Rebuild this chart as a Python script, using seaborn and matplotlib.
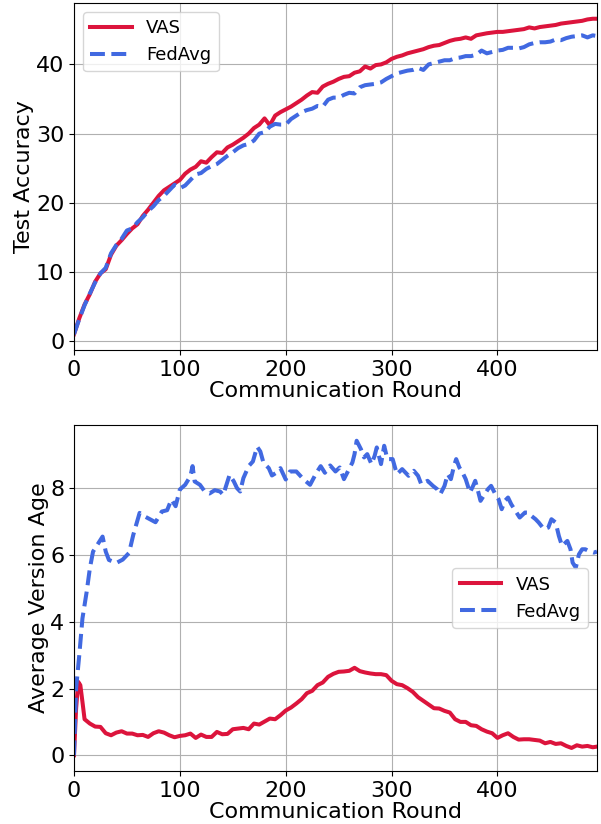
import numpy as np
import pandas as pd
import matplotlib
matplotlib.use('Agg')
import matplotlib.pyplot as plt
import seaborn as sns

acc_rounds = list(range(0, 495, 5)) + [494]
acc_vas = [1.0, 3.3, 5.3, 6.8, 8.6, 9.8, 10.4, 12.5, 13.8, 14.6,
           15.5, 16.3, 16.9, 18.1, 19.0, 20.0, 21.0, 21.8, 22.3, 22.8,
           23.3, 24.2, 24.8, 25.2, 26.0, 25.8, 26.6, 27.3, 27.2, 28.0,
           28.4, 28.9, 29.4, 30.0, 30.8, 31.3, 32.2, 31.2, 32.6, 33.1,
           33.5, 33.9, 34.4, 34.9, 35.5, 36.0, 35.9, 36.8, 37.2, 37.5,
           37.9, 38.2, 38.3, 38.8, 39.0, 39.7, 39.4, 39.9, 40.0, 40.3,
           40.8, 41.1, 41.3, 41.6, 41.8, 42.0, 42.2, 42.5, 42.7, 42.8,
           43.1, 43.4, 43.6, 43.7, 43.9, 43.7, 44.2, 44.35, 44.5, 44.6,
           44.7, 44.7, 44.8, 44.9, 45.0, 45.1, 45.35, 45.2, 45.4, 45.5,
           45.6, 45.7, 45.9, 46.0, 46.1, 46.2, 46.3, 46.5, 46.6, 46.6]
acc_fedavg = [1.0, 3.2, 5.2, 6.9, 8.5, 9.8, 10.6, 12.7, 13.9, 14.8,
              16.0, 16.3, 17.2, 17.9, 18.8, 19.5, 20.4, 21.0, 21.8, 22.6,
              22.1, 22.5, 23.3, 24.1, 24.3, 24.9, 25.3, 25.6, 26.2, 26.8,
              27.3, 27.9, 28.3, 28.5, 29.0, 30.0, 30.2, 31.0, 31.4, 31.3,
              31.3, 32.1, 32.6, 33.1, 33.4, 33.6, 34.0, 33.9, 34.9, 35.2,
              35.2, 35.6, 35.9, 35.8, 36.7, 37.0, 37.1, 37.2, 37.4, 37.9,
              38.3, 38.7, 38.9, 39.1, 39.2, 39.5, 39.2, 40.0, 40.2, 40.4,
              40.6, 40.6, 40.9, 41.0, 41.2, 41.2, 41.4, 42.0, 41.6, 41.8,
              42.0, 42.1, 42.4, 42.4, 42.3, 42.5, 42.9, 43.1, 43.2, 43.2,
              43.3, 43.6, 43.5, 43.8, 44.0, 44.1, 44.2, 43.9, 44.2, 44.1]

# Average version age
age_vas_rounds = [0, 2, 4, 6, 8] + list(range(10, 495, 5)) + [494]
age_vas = [0.0, 1.4, 2.2, 2.1, 1.6,
           1.08, 0.95, 0.86, 0.85, 0.66, 0.60, 0.68, 0.72, 0.65, 0.65,
           0.60, 0.61, 0.55, 0.66, 0.72, 0.68, 0.60, 0.54, 0.58, 0.60,
           0.65, 0.52, 0.62, 0.55, 0.55, 0.70, 0.63, 0.64, 0.78, 0.80,
           0.82, 0.78, 0.95, 0.92, 1.01, 1.10, 1.08, 1.20, 1.34, 1.43,
           1.55, 1.68, 1.86, 1.93, 2.10, 2.18, 2.35, 2.44, 2.50, 2.51,
           2.53, 2.62, 2.52, 2.48, 2.45, 2.43, 2.43, 2.40, 2.23, 2.13,
           2.10, 2.01, 1.90, 1.74, 1.63, 1.52, 1.41, 1.40, 1.33, 1.28,
           1.08, 1.00, 1.00, 0.90, 0.88, 0.78, 0.71, 0.66, 0.52, 0.60,
           0.66, 0.55, 0.47, 0.48, 0.48, 0.46, 0.44, 0.36, 0.40, 0.34,
           0.36, 0.28, 0.22, 0.30, 0.26, 0.28, 0.24, 0.26]

age_fedavg_rounds = [0, 2, 5, 8, 12, 15, 18, 23, 27, 30, 33, 40, 46, 52, 56,
                     62, 67, 73, 77, 83, 88, 92, 96, 100, 105, 110, 112, 114,
                     119, 124, 128, 133, 138, 141, 144, 147, 151, 154, 157,
                     160, 165, 169, 173, 176, 179, 184, 187, 191, 195, 200,
                     204, 210, 217, 223, 229, 233, 237, 242, 247, 251, 255,
                     259, 263, 265, 267, 271, 274, 277, 281, 284, 286, 290,
                     293, 296, 301, 305, 310, 316, 321, 325, 328, 334, 339,
                     343, 346, 350, 353, 356, 359, 361, 364, 367, 370, 374,
                     377, 379, 382, 384, 388, 391, 394, 398, 401, 404, 407,
                     410, 413, 417, 421, 426, 429, 432, 436, 439, 444, 448,
                     451, 455, 458, 461, 466, 469, 471, 474, 477, 480, 483,
                     486, 491, 494]
age_fedavg = [0.0, 2.0, 3.0, 4.1, 4.9, 5.6, 6.1, 6.35, 6.55, 6.1, 5.85, 5.76,
              5.86, 6.06, 6.6, 7.26, 7.15, 7.05, 6.98, 7.3, 7.34, 7.66, 7.46,
              7.96, 8.1, 8.36, 8.66, 8.2, 8.1, 7.88, 7.84, 7.94, 7.9, 7.8,
              8.1, 8.4, 8.2, 8.0, 7.9, 8.3, 8.66, 8.8, 9.24, 9.1, 8.76, 8.6,
              8.38, 8.46, 8.6, 8.26, 8.5, 8.5, 8.26, 8.1, 8.46, 8.66, 8.46,
              8.68, 8.5, 8.62, 8.27, 8.52, 8.77, 9.02, 9.42, 9.17, 8.92, 9.02,
              8.72, 8.97, 9.22, 8.72, 9.27, 8.87, 8.87, 8.42, 8.57, 8.37,
              8.52, 8.37, 8.12, 8.22, 8.07, 7.97, 7.82, 8.07, 8.42, 8.27,
              8.67, 8.87, 8.62, 8.47, 8.27, 7.87, 8.07, 8.22, 7.87, 7.62,
              7.82, 7.97, 8.07, 7.82, 7.67, 7.37, 7.62, 7.72, 7.52, 7.32,
              7.12, 7.27, 7.27, 7.17, 7.07, 6.97, 6.77, 6.82, 7.07, 6.97,
              6.57, 6.27, 6.42, 6.17, 5.77, 5.62, 6.02, 6.17, 6.17, 6.12,
              6.07, 6.1]

vas_color = '#DC143C'
fedavg_color = '#4169E1'
lw = 2.9

fig = plt.figure(figsize=(6.01, 8.24), dpi=100)
ax1 = fig.add_axes([0.1231, 0.5752, 0.8702, 0.4212])
ax2 = fig.add_axes([0.1231, 0.0643, 0.8702, 0.4199])

# Top panel: test accuracy
sns.lineplot(x=acc_rounds, y=acc_vas, ax=ax1, color=vas_color, lw=lw, label='VAS')
sns.lineplot(x=acc_rounds, y=acc_fedavg, ax=ax1, color=fedavg_color, lw=lw,
             linestyle='--', label='FedAvg')
ax1.set_ylabel('Test Accuracy', fontsize=16, labelpad=1)
ax1.set_xlabel('Communication Round', fontsize=16, labelpad=1)
ax1.legend(loc='upper left', fontsize=13, handlelength=2.3)

# Bottom panel: average version age
sns.lineplot(x=age_vas_rounds, y=age_vas, ax=ax2, color=vas_color, lw=lw, label='VAS')
sns.lineplot(x=age_fedavg_rounds, y=age_fedavg, ax=ax2, color=fedavg_color, lw=lw,
             linestyle='--', label='FedAvg')
ax2.set_ylabel('Average Version Age', fontsize=16, labelpad=1)
ax2.set_xlabel('Communication Round', fontsize=16, labelpad=1)
ax2.legend(loc='center right', fontsize=13, handlelength=2.3)

for ax in (ax1, ax2):
    ax.set_xlim(0, 494)
    ax.grid(True, color='#b0b0b0', linewidth=0.8)
    ax.tick_params(labelsize=16)

fig.savefig('out.png', dpi=100)
